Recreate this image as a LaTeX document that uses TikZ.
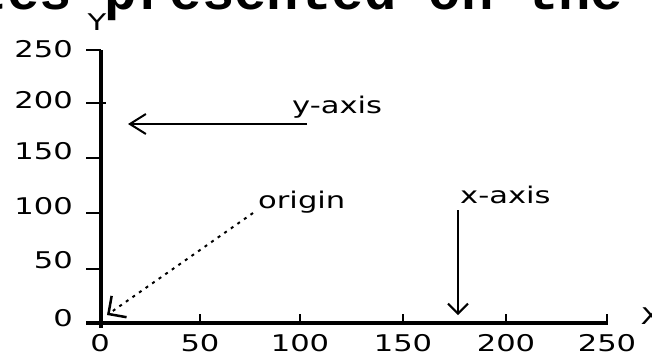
\documentclass[tikz,border=0pt]{standalone}
\usepackage{fontspec}
\usetikzlibrary{arrows.meta}
\newfontfamily\pixfont[FakeStretch=1.33]{DejaVu Sans}
\newfontfamily\headfont{Liberation Mono}

\begin{document}
\begin{tikzpicture}[x=1pt,y=-1pt,
  lbl/.style={font=\pixfont\fontsize{23}{27}\selectfont,inner sep=0pt},
  axisline/.style={line width=3.5pt},
  tickline/.style={line width=2.5pt},
  pointer/.style={line width=2pt,-{Straight Barb[length=#1,width=20pt,line width=2pt]}},
  pointer/.default=10pt]

\useasboundingbox (0,0) rectangle (652,357);

% Titel (oben abgeschnitten)
\node[font=\headfont\bfseries\fontsize{54}{60}\selectfont,anchor=base west,inner sep=0pt] (head) at (-25,9) {tes presented on the};

% Achsen
\draw[axisline] (101,50) -- (101,328);
\draw[axisline] (86,323) -- (608,323);
\node[lbl] (ynm) at (97,22) {Y};
\node[lbl] (xnm) at (651,316) {X};

% Teilung y
\foreach \ty/\ly/\v in {50/49/250,158/151/150,213/206/100,269/260/50,323/318/0}{
  \draw[tickline] (86,\ty) -- (101,\ty);
  \node[lbl,anchor=east] (ylab\v) at (73,\ly) {\v};
}
\draw[tickline] (86,103) -- (106,103);
\node[lbl,anchor=east] (ylab200) at (73,100) {200};

% Teilung x
\foreach \tx/\v in {100/0,200/50,300/100,403/150,506/200,607/250}{
  \draw[tickline] (\tx,314) -- (\tx,323);
  \node[lbl] (xlab\v) at (\tx,343) {\v};
}

% Beschriftungen mit Pfeilen
\node[lbl,anchor=base west] (ylbl) at (292,113) {y-axis};
\node[lbl,anchor=base west] (orig) at (258,208) {origin};
\node[lbl,anchor=base west] (xlbl) at (460,203) {x-axis};

\coordinate (yend) at (128,124);
\coordinate (oend) at (107,315);
\coordinate (xend) at (458,315);

\draw[pointer=16pt] ([shift={(15,11)}]ylbl.base west) -- (yend);
\draw[line width=2pt,dash pattern=on 3pt off 5pt,-{Straight Barb[length=13pt,width=26pt,line width=2.5pt]}] ([shift={(-5,5)}]orig.base west) -- (oend);
\draw[pointer=10pt] ([shift={(-2,7)}]xlbl.base west) -- (xend);

\end{tikzpicture}
\end{document}
